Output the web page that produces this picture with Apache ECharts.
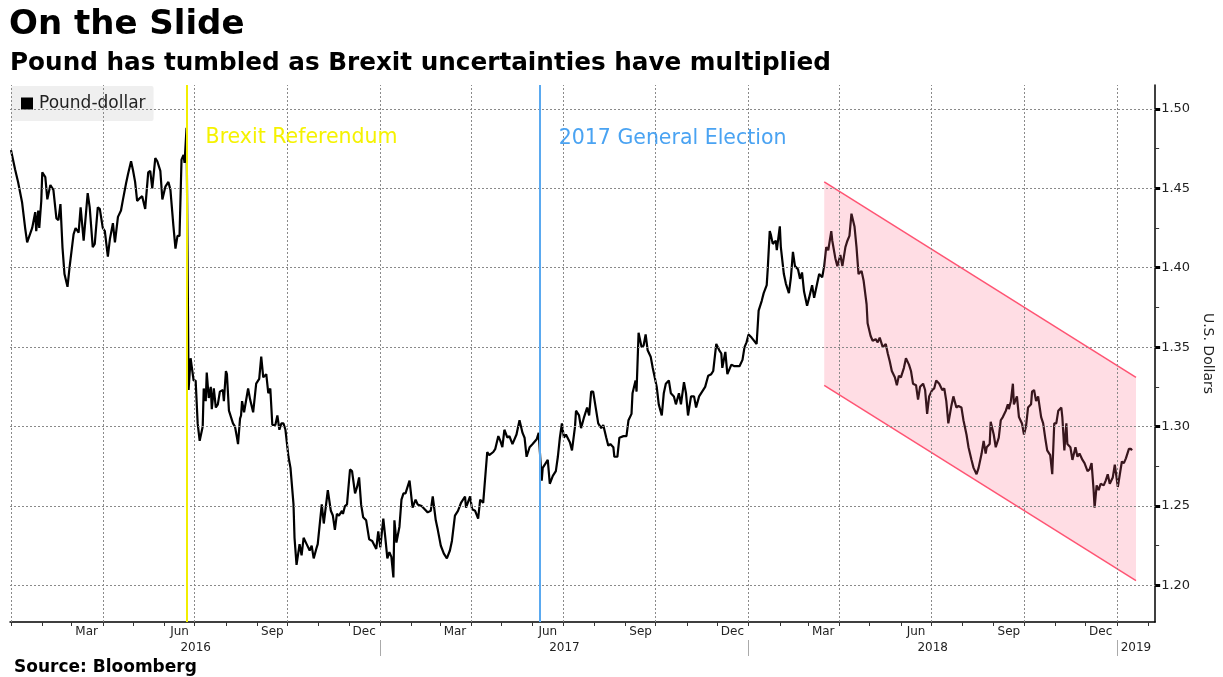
<!DOCTYPE html>
<html lang="en">
<head>
  <meta charset="UTF-8">
  <title>On the Slide</title>
  <style>
    html, body { margin: 0; padding: 0; background: #fff; }
    #chart { width: 1223px; height: 677px; }
  </style>
</head>
<body>
  <div id="chart"></div>
  <script src="https://cdn.jsdelivr.net/npm/echarts@6/dist/echarts.min.js"></script>
  <script>
    // pound-dollar: days since 1 Jan 2016 and the rate
    const days = [
      0, 4, 7, 11, 14, 16, 21, 24, 25, 27, 28, 30, 31, 34, 36, 39, 42, 45, 47, 49,
      51, 53, 56, 58, 62, 64, 67, 69, 72, 76, 78, 81, 83, 86, 88, 91, 93, 96, 98, 101,
      103, 106, 109, 111, 114, 116, 119, 121, 123, 125, 128, 130, 133, 136, 138, 140, 143, 145, 148, 150,
      153, 156, 158, 161, 163, 165, 167, 169, 171, 172, 174, 176, 178, 181, 183, 185, 187, 190, 191, 193,
      194, 196, 198, 199, 201, 203, 205, 207, 210, 211, 213, 214, 216, 220, 222, 224, 225, 227, 228, 229,
      231, 235, 237, 240, 243, 246, 248, 250, 253, 255, 257, 259, 262, 264, 266, 268, 270, 272, 275, 277,
      280, 281, 283, 286, 288, 290, 293, 296, 298, 300, 303, 304, 308, 310, 314, 317, 319, 321, 323, 325,
      328, 329, 331, 333, 336, 338, 341, 343, 345, 347, 349, 352, 355, 358, 362, 364, 366, 369, 371, 373,
      375, 377, 379, 380, 382, 385, 387, 389, 391, 395, 398, 401, 403, 407, 410, 413, 416, 418, 421, 423,
      426, 429, 432, 435, 437, 440, 443, 446, 450, 451, 455, 457, 460, 463, 465, 468, 472, 474, 478, 480,
      483, 485, 487, 489, 492, 494, 497, 501, 504, 507, 509, 511, 514, 517, 521, 523, 526, 527, 530, 532,
      534, 537, 540, 542, 544, 546, 548, 550, 554, 556, 559, 560, 563, 565, 568, 571, 573, 575, 577, 580,
      582, 585, 587, 590, 592, 594, 597, 598, 601, 603, 607, 610, 612, 615, 616, 619, 620, 622, 625, 627,
      629, 631, 634, 636, 640, 642, 645, 647, 649, 652, 654, 657, 659, 662, 664, 667, 669, 671, 674, 677,
      679, 682, 685, 688, 691, 694, 696, 699, 702, 704, 705, 708, 710, 714, 717, 722, 725, 727, 729, 731,
      734, 735, 739, 741, 744, 746, 749, 750, 752, 753, 755, 758, 759, 762, 763, 766, 768, 771, 773, 775,
      777, 780, 782, 784, 786, 789, 791, 794, 796, 799, 801, 804, 806, 808, 810, 813, 814, 817, 819, 822,
      824, 827, 829, 831, 833, 836, 838, 840, 843, 845, 848, 849, 852, 854, 857, 859, 861, 864, 867, 869,
      871, 873, 876, 878, 880, 882, 885, 887, 890, 892, 894, 897, 899, 901, 904, 906, 908, 910, 913, 915,
      917, 920, 923, 925, 927, 929, 932, 934, 937, 939, 942, 944, 947, 949, 952, 954, 957, 959, 962, 964,
      966, 967, 970, 971, 974, 976, 979, 981, 983, 986, 988, 989, 991, 993, 994, 997, 999, 1002, 1004, 1006,
      1008, 1011, 1012, 1014, 1016, 1018, 1021, 1023, 1025, 1027, 1030, 1032, 1034, 1036, 1038, 1041, 1042, 1044, 1046, 1047,
      1050, 1052, 1055, 1057, 1059, 1062, 1064, 1067, 1069, 1071, 1073, 1074, 1076, 1078, 1080, 1083, 1085, 1087, 1089, 1092,
      1094, 1097, 1099, 1101, 1103, 1105, 1108, 1110, 1111
    ]
    const gbpusd = [
      1.474, 1.462, 1.454, 1.441, 1.425, 1.416, 1.425, 1.435, 1.423, 1.436, 1.425, 1.442, 1.460, 1.457, 1.443, 1.452, 1.449, 1.431, 1.430, 1.440,
      1.413, 1.396, 1.388, 1.400, 1.421, 1.425, 1.422, 1.438, 1.417, 1.447, 1.438, 1.413, 1.415, 1.438, 1.437, 1.425, 1.423, 1.407, 1.418, 1.428,
      1.416, 1.432, 1.436, 1.443, 1.453, 1.459, 1.467, 1.461, 1.454, 1.442, 1.444, 1.445, 1.437, 1.460, 1.461, 1.450, 1.469, 1.467, 1.461, 1.443,
      1.451, 1.454, 1.449, 1.426, 1.412, 1.420, 1.420, 1.468, 1.471, 1.466, 1.488, 1.323, 1.343, 1.329, 1.329, 1.302, 1.291, 1.300, 1.324, 1.316,
      1.334, 1.318, 1.325, 1.311, 1.324, 1.312, 1.314, 1.322, 1.323, 1.316, 1.335, 1.333, 1.310, 1.302, 1.300, 1.293, 1.289, 1.305, 1.307, 1.316,
      1.309, 1.324, 1.317, 1.309, 1.327, 1.330, 1.344, 1.331, 1.333, 1.321, 1.324, 1.301, 1.301, 1.307, 1.298, 1.302, 1.302, 1.298, 1.281, 1.274,
      1.251, 1.230, 1.213, 1.226, 1.219, 1.230, 1.226, 1.222, 1.225, 1.217, 1.224, 1.226, 1.251, 1.239, 1.260, 1.247, 1.244, 1.235, 1.245, 1.244,
      1.247, 1.245, 1.250, 1.251, 1.273, 1.272, 1.258, 1.262, 1.268, 1.251, 1.243, 1.241, 1.229, 1.228, 1.223, 1.234, 1.224, 1.242, 1.230, 1.217,
      1.221, 1.218, 1.205, 1.241, 1.227, 1.237, 1.254, 1.258, 1.258, 1.266, 1.249, 1.254, 1.251, 1.250, 1.248, 1.246, 1.247, 1.256, 1.241, 1.235,
      1.225, 1.220, 1.217, 1.222, 1.228, 1.244, 1.247, 1.252, 1.256, 1.249, 1.256, 1.248, 1.247, 1.242, 1.254, 1.252, 1.284, 1.282, 1.284, 1.286,
      1.294, 1.291, 1.287, 1.298, 1.293, 1.294, 1.289, 1.295, 1.304, 1.296, 1.293, 1.281, 1.287, 1.289, 1.292, 1.296, 1.266, 1.274, 1.277, 1.279,
      1.264, 1.269, 1.272, 1.281, 1.293, 1.302, 1.293, 1.295, 1.290, 1.285, 1.300, 1.310, 1.307, 1.299, 1.306, 1.312, 1.307, 1.322, 1.322, 1.310,
      1.302, 1.299, 1.301, 1.293, 1.288, 1.289, 1.287, 1.281, 1.281, 1.293, 1.294, 1.294, 1.304, 1.308, 1.321, 1.329, 1.322, 1.359, 1.350, 1.351,
      1.358, 1.348, 1.344, 1.337, 1.325, 1.314, 1.307, 1.321, 1.327, 1.329, 1.321, 1.319, 1.314, 1.321, 1.314, 1.328, 1.321, 1.307, 1.319, 1.319,
      1.312, 1.319, 1.322, 1.325, 1.332, 1.333, 1.335, 1.352, 1.348, 1.346, 1.337, 1.347, 1.333, 1.339, 1.338, 1.338, 1.342, 1.350, 1.353, 1.358,
      1.356, 1.357, 1.352, 1.373, 1.379, 1.384, 1.389, 1.399, 1.423, 1.421, 1.415, 1.417, 1.411, 1.426, 1.413, 1.396, 1.390, 1.384, 1.394, 1.410,
      1.401, 1.399, 1.393, 1.397, 1.385, 1.376, 1.381, 1.389, 1.381, 1.390, 1.396, 1.394, 1.401, 1.413, 1.411, 1.423, 1.417, 1.406, 1.401, 1.408,
      1.401, 1.413, 1.417, 1.420, 1.434, 1.426, 1.413, 1.396, 1.398, 1.392, 1.377, 1.365, 1.357, 1.354, 1.355, 1.353, 1.356, 1.350, 1.352, 1.346,
      1.341, 1.335, 1.331, 1.326, 1.332, 1.331, 1.337, 1.343, 1.339, 1.335, 1.327, 1.326, 1.317, 1.325, 1.327, 1.323, 1.308, 1.319, 1.323, 1.324,
      1.329, 1.327, 1.323, 1.324, 1.316, 1.302, 1.313, 1.319, 1.312, 1.313, 1.312, 1.304, 1.295, 1.287, 1.279, 1.274, 1.270, 1.274, 1.283, 1.291,
      1.283, 1.287, 1.289, 1.303, 1.295, 1.287, 1.293, 1.304, 1.306, 1.310, 1.314, 1.311, 1.316, 1.327, 1.314, 1.319, 1.306, 1.302, 1.295, 1.300,
      1.312, 1.314, 1.322, 1.323, 1.316, 1.319, 1.306, 1.302, 1.293, 1.285, 1.282, 1.270, 1.302, 1.302, 1.310, 1.312, 1.306, 1.285, 1.302, 1.289,
      1.287, 1.279, 1.287, 1.281, 1.283, 1.279, 1.277, 1.272, 1.273, 1.277, 1.260, 1.249, 1.263, 1.260, 1.264, 1.263, 1.266, 1.270, 1.264, 1.268,
      1.276, 1.262, 1.270, 1.278, 1.277, 1.280, 1.286, 1.286, 1.285
    ]

    const eventNames = ['Brexit Referendum', '2017 General Election']
    const eventDates = ['2016-06-23', '2017-06-08']

    // the downward channel drawn over 2018
    const channelDates = ['2018-03-17', '2019-01-20']
    const channelTop = [1.454, 1.331]
    const channelBottom = [1.326, 1.203]

    const yLabels = [1.20, 1.25, 1.30, 1.35, 1.40, 1.45, 1.50]
    const yMinor = [1.225, 1.275, 1.325, 1.375, 1.425, 1.475]
    const monthNames = { 2: 'Mar', 5: 'Jun', 8: 'Sep', 11: 'Dec' }
    const years = [2016, 2017, 2018, 2019]

    const FONT = 'DejaVu Sans'
    const DAY = 864e5
    const utc = s => {
      const p = s.split('-').map(Number)
      return Date.UTC(p[0], p[1] - 1, p[2])
    }
    const T0 = utc('2016-01-01')
    const xMin = T0 - DAY
    const xMax = utc('2019-02-08')

    const line = days.map((d, i) => [T0 + d * DAY, gbpusd[i]])

    // month ticks, quarter grid lines, label spots
    const monthTicks = []
    const quarterLines = []
    const monthLabelAt = []
    years.forEach(y => {
      for (let m = 0; m < 12; m++) {
        const t = Date.UTC(y, m, 1)
        if (t > xMin && t <= xMax) {
          monthTicks.push(t)
          if (m % 3 === 0) quarterLines.push(t)
        }
        const mid = Date.UTC(y, m, 16)
        if (monthNames[m] && mid < xMax) monthLabelAt.push(mid)
      }
    })
    const yearTicks = years.slice(1).map(y => Date.UTC(y, 0, 1))
    const yearLabelAt = years.map(y => {
      const a = Math.max(Date.UTC(y, 0, 1), xMin)
      const b = Math.min(Date.UTC(y + 1, 0, 1), xMax)
      return (a + b) / 2
    })

    const chart = echarts.init(document.getElementById('chart'))

    const option = {
      animation: false,
      backgroundColor: '#fff',
      textStyle: { fontFamily: FONT },
      title: [
        { text: 'On the Slide', left: 9, top: 8, padding: 0,
          textStyle: { fontFamily: FONT, fontSize: 34, fontWeight: 'bold', color: '#000' } },
        { text: 'Pound has tumbled as Brexit uncertainties have multiplied', left: 10, top: 51, padding: 0,
          textStyle: { fontFamily: FONT, fontSize: 24.7, fontWeight: 'bold', color: '#000' } },
        { text: 'Source: Bloomberg', left: 14, top: 659, padding: 0,
          textStyle: { fontFamily: FONT, fontSize: 17, fontWeight: 'bold', color: '#000' } }
      ],
      legend: {
        data: ['Pound-dollar'],
        left: 11, top: 86,
        padding: [9, 8, 9, 10],
        backgroundColor: '#efefef',
        borderRadius: 2,
        icon: 'rect',
        itemWidth: 12, itemHeight: 12, itemGap: 4,
        textStyle: { fontFamily: FONT, fontSize: 17, color: '#222', padding: [0, 0, 0, 1] }
      },
      grid: { left: 10, right: 67, top: 85, bottom: 55 },
      xAxis: [
        {
          type: 'value', min: xMin, max: xMax,
          axisLine: { lineStyle: { color: '#000', width: 1.5 } },
          axisTick: { show: true, customValues: monthTicks, length: 4, lineStyle: { color: '#333' } },
          axisLabel: {
            customValues: monthLabelAt, margin: 4, fontSize: 12, color: '#222', fontFamily: FONT,
            formatter: v => monthNames[new Date(v).getUTCMonth()] || ''
          },
          splitLine: { show: false }
        },
        {
          type: 'value', min: xMin, max: xMax, position: 'bottom', offset: 18,
          axisLine: { show: false },
          axisTick: { show: true, customValues: yearTicks, length: 16, lineStyle: { color: '#aaa' } },
          axisLabel: {
            customValues: yearLabelAt, margin: 2, fontSize: 12, color: '#222', fontFamily: FONT,
            formatter: v => String(new Date(v).getUTCFullYear())
          },
          splitLine: { show: false }
        }
      ],
      yAxis: [
        {
          type: 'value', position: 'right', min: 1.177, max: 1.515,
          name: 'U.S. Dollars', nameLocation: 'middle', nameRotate: -90, nameGap: 44,
          nameTextStyle: { fontFamily: FONT, fontSize: 14, color: '#222' },
          axisLine: { show: true, lineStyle: { color: '#000', width: 1.5 } },
          axisTick: { show: true, customValues: yMinor, length: 4, lineStyle: { color: '#333' } },
          axisLabel: {
            customValues: yLabels, margin: 6, fontSize: 13, color: '#222', fontFamily: FONT,
            formatter: v => v.toFixed(2)
          },
          splitLine: { show: false }
        },
        {
          type: 'value', position: 'right', min: 1.177, max: 1.515,
          axisLine: { show: false },
          axisTick: { show: true, customValues: yLabels, length: 5, lineStyle: { color: '#000', width: 3 } },
          axisLabel: { show: false },
          splitLine: { show: false }
        }
      ],
      series: [
        {
          // dashed grid
          type: 'line', data: [], z: 1, silent: true,
          markLine: {
            silent: true, symbol: ['none', 'none'], label: { show: false },
            lineStyle: { color: '#8a8a8a', type: [2, 2], width: 1 },
            data: yLabels.map(v => ({ yAxis: v })).concat(quarterLines.map(t => ({ xAxis: t })))
          }
        },
        {
          // event lines and their captions
          type: 'line', data: [], z: 2, silent: true,
          markLine: {
            silent: true, symbol: ['none', 'none'], label: { show: false },
            data: eventDates.map((d, i) => ({
              xAxis: utc(d),
              lineStyle: { color: i === 0 ? '#f2ee00' : '#5aa9f0', width: 2, type: 'solid' }
            }))
          },
          markPoint: {
            silent: true, symbol: 'circle', symbolSize: 0,
            data: eventDates.map((d, i) => ({
              coord: [utc(d), i === 0 ? 1.482 : 1.481],
              label: {
                show: true, position: 'inside', align: 'left', offset: [19, 0],
                formatter: eventNames[i], fontFamily: FONT, fontSize: 20.5,
                color: i === 0 ? '#f5f200' : '#4aa3f2'
              }
            }))
          }
        },
        {
          name: 'Pound-dollar', type: 'line', data: line, z: 3,
          showSymbol: false, symbol: 'none', sampling: 'none',
          itemStyle: { color: '#000' },
          lineStyle: { color: '#000', width: 2.2 }
        },
        {
          // channel, shaded over the line
          type: 'custom', z: 4, silent: true,
          data: [[utc(channelDates[0]), channelTop[0], channelBottom[0],
                  utc(channelDates[1]), channelTop[1], channelBottom[1]]],
          encode: { x: [0, 3], y: [1, 2, 4, 5] },
          renderItem: (params, api) => {
            const a = api.coord([api.value(0), api.value(1)])
            const b = api.coord([api.value(3), api.value(4)])
            const c = api.coord([api.value(3), api.value(5)])
            const d = api.coord([api.value(0), api.value(2)])
            const edge = { stroke: '#ff5473', lineWidth: 1.5 }
            return {
              type: 'group',
              children: [
                { type: 'polygon', shape: { points: [a, b, c, d] }, style: { fill: 'rgba(255,100,130,0.22)' } },
                { type: 'line', shape: { x1: a[0], y1: a[1], x2: b[0], y2: b[1] }, style: edge },
                { type: 'line', shape: { x1: d[0], y1: d[1], x2: c[0], y2: c[1] }, style: edge }
              ]
            }
          }
        }
      ]
    }

    chart.setOption(option)
  </script>
</body>
</html>
